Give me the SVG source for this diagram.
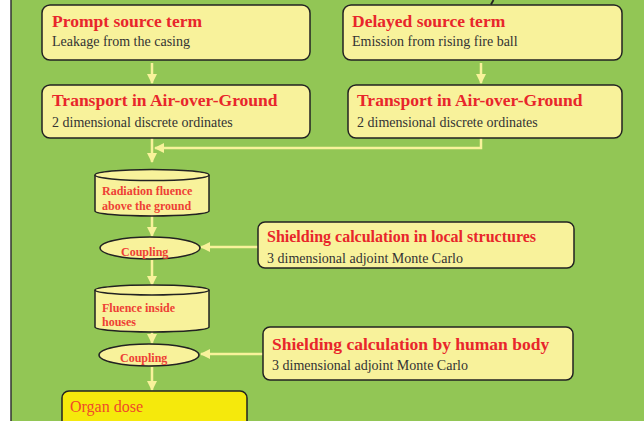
<svg xmlns="http://www.w3.org/2000/svg" width="644" height="421" viewBox="0 0 644 421">
  <style>
    .box { fill: #f8f29b; stroke: #222; stroke-width: 1.5; }
    .title { font-family: "Liberation Serif", serif; font-weight: bold; font-size: 17.5px; fill: #e8262b; }
    .sub { font-family: "Liberation Serif", serif; font-size: 14px; fill: #333; }
    .small { font-family: "Liberation Serif", serif; font-weight: bold; font-size: 12px; fill: #ee4035; }
    .link { fill: none; stroke: #f8f29b; stroke-width: 2.5; }
  </style>
  <defs>
    <marker id="arrow" viewBox="0 0 10 10" refX="9" refY="5" markerWidth="4" markerHeight="4" orient="auto" markerUnits="strokeWidth">
      <path d="M0,0 L10,5 L0,10 Z" fill="#f8f29b"/>
    </marker>
  </defs>

  <!-- slide background -->
  <rect x="0" y="0" width="644" height="421" fill="#ffffff"/>
  <rect x="11" y="-5" width="640" height="440" fill="#92c655" stroke="#333" stroke-width="1.5"/>
  <line x1="493.5" y1="0" x2="491" y2="4.5" stroke="#222" stroke-width="1.8"/>

  <!-- connectors -->
  <g id="connectors">
    <line class="link" x1="152" y1="63" x2="152" y2="83" marker-end="url(#arrow)"/>
    <line class="link" x1="481" y1="63" x2="481" y2="83" marker-end="url(#arrow)"/>
    <line class="link" x1="152" y1="138" x2="152" y2="162" marker-end="url(#arrow)"/>
    <polyline class="link" points="481,138 481,148 155,148" marker-end="url(#arrow)"/>
    <line class="link" x1="152" y1="216" x2="152" y2="236" marker-end="url(#arrow)"/>
    <line class="link" x1="258" y1="247" x2="201" y2="247" marker-end="url(#arrow)"/>
    <line class="link" x1="152" y1="260" x2="152" y2="285" marker-end="url(#arrow)"/>
    <line class="link" x1="152" y1="332" x2="152" y2="343" marker-end="url(#arrow)"/>
    <line class="link" x1="263" y1="354" x2="201" y2="354" marker-end="url(#arrow)"/>
    <line class="link" x1="152" y1="367" x2="152" y2="390" marker-end="url(#arrow)"/>
  </g>

  <g id="prompt-source">
    <rect class="box" x="42" y="5" width="268" height="55" rx="8"/>
    <text class="title" x="52" y="27">Prompt source term</text>
    <text class="sub" x="52" y="46">Leakage from the casing</text>
  </g>

  <g id="delayed-source">
    <rect class="box" x="343" y="5" width="279" height="55" rx="8"/>
    <text class="title" x="352" y="27">Delayed source term</text>
    <text class="sub" x="352" y="46">Emission from rising fire ball</text>
  </g>

  <g id="transport-left">
    <rect class="box" x="42" y="85" width="268" height="53" rx="8"/>
    <text class="title" x="52" y="106">Transport in Air-over-Ground</text>
    <text class="sub" x="52" y="127">2 dimensional discrete ordinates</text>
  </g>

  <g id="transport-right">
    <rect class="box" x="348" y="85" width="274" height="53" rx="8"/>
    <text class="title" x="357" y="106">Transport in Air-over-Ground</text>
    <text class="sub" x="357" y="127">2 dimensional discrete ordinates</text>
  </g>

  <g id="fluence-above-ground">
    <path class="box" d="M95,175 L95,211 A57,5 0 0 0 209,211 L209,175"/>
    <ellipse class="box" cx="152" cy="175" rx="57" ry="5.5" fill="#faf5b8"/>
    <text class="small" x="102" y="195">Radiation fluence</text>
    <text class="small" x="102" y="210">above the ground</text>
  </g>

  <g id="coupling-1">
    <ellipse class="box" cx="150" cy="248" rx="50" ry="11"/>
    <text class="small" x="121" y="256">Coupling</text>
  </g>

  <g id="shielding-structures">
    <rect class="box" x="258" y="222" width="316" height="46" rx="7"/>
    <text class="title" x="267" y="242" style="font-size:16px">Shielding calculation in local structures</text>
    <text class="sub" x="267" y="263">3 dimensional adjoint Monte Carlo</text>
  </g>

  <g id="fluence-inside-houses">
    <path class="box" d="M95,290 L95,327 A57,5 0 0 0 209,327 L209,290"/>
    <ellipse class="box" cx="152" cy="290" rx="57" ry="5" fill="#faf5b8"/>
    <text class="small" x="102" y="312">Fluence inside</text>
    <text class="small" x="102" y="326">houses</text>
  </g>

  <g id="coupling-2">
    <ellipse class="box" cx="149" cy="355" rx="50" ry="11"/>
    <text class="small" x="120" y="362">Coupling</text>
  </g>

  <g id="shielding-body">
    <rect class="box" x="263" y="327" width="310" height="53" rx="7"/>
    <text class="title" x="272" y="350">Shielding calculation by human body</text>
    <text class="sub" x="272" y="370">3 dimensional adjoint Monte Carlo</text>
  </g>

  <g id="organ-dose">
    <rect x="62" y="391" width="185" height="40" rx="7" fill="#f5e90c" stroke="#222" stroke-width="1.5"/>
    <text x="70" y="412" font-family="Liberation Serif, serif" font-size="16" fill="#f04a2a">Organ dose</text>
  </g>
</svg>
